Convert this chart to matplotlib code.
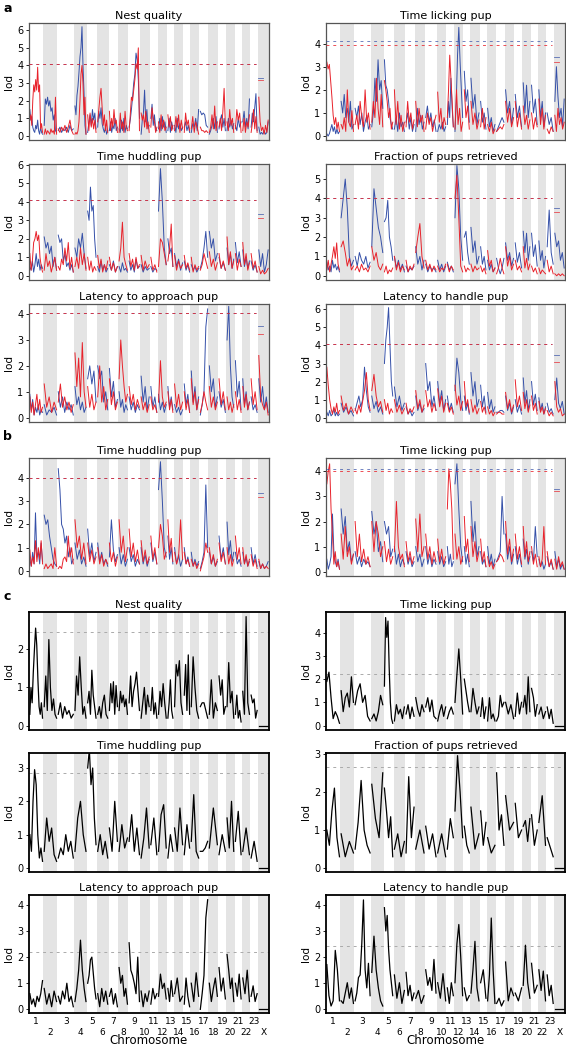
import numpy as np
import matplotlib.pyplot as plt

# chromosome layout (relative widths)
chroms = [str(i) for i in range(1, 24)] + ['X']
chrom_len = [43, 42, 50, 38, 30, 35, 29, 30, 36, 29, 23, 28, 20, 29, 21, 27, 27, 29, 24, 25, 22, 25, 23, 33]
gap = 5

RED = '#e8222b'
BLUE = '#3550a8'
BAND = '#e4e4e4'


def parse(s):
    return [np.array(c.split(), float) for c in s.split('|')]


# ---- panel a / b : red and blue LOD traces, one '|' block per chromosome ----
a_nest_red = ("0.9 1.2 0.6 2.0 2.9 2.5 3.2 2.6 3.9 2.5 2.9 0.4 0.7 0.2|0.1 0.4 0.1 0.3 0.2 0.1 0.4 0.2 0.3 0.1 2.2 0.1|"
              "0.4 0.2 0.5 0.3 0.6 0.2 0.5 0.9 0.3 0.1|0.1 0.2 0.1 0.3 0.8 2.0 3.5 4.0 3.0 1.2 2.2 0.1|1.2 0.3 1.3 0.5 1.0 0.4 0.9 0.2|"
              "0.8 1.5 2.2 2.7 1.6 0.6 1.2 0.3 0.9 0.2|1.4 0.3 1.0 0.5 1.5 0.7 0.9 0.2|0.2 1.3 0.4 0.8 0.2 1.4 0.5 0.3|"
              "0.3 1.2 2.2 2.0 2.6 3.2 4.1 3.8 5.0 0.3|1.3 0.9 1.2 0.5 1.4 0.4 0.8 0.2|0.5 1.6 1.0 0.8 0.2 0.5|0.8 0.2 1.2 0.4 0.9 0.3 0.5|"
              "1.2 0.5 1.1 0.3 0.6|0.3 1.1 0.5 1.2 0.2 0.9 0.4|0.2 1.3 0.6 0.9 0.3|0.4 1.1 0.2 0.8 0.5 0.1|0.5 0.3 0.3 0.2 0.3 0.2|"
              "0.2 0.5 1.2 0.4 1.7 0.3 0.8|0.5 1.0 0.3 1.4 2.7 0.6|0.8 0.3 1.5 0.6 1.0 0.2|0.4 1.5 0.9 1.3 0.2|0.3 1.0 0.2 0.8 0.5 1.2|"
              "0.2 0.7 1.5 0.4 1.1 0.2|2.2 0.8 0.3 0.5 0.1 0.6 0.2 0.9")
a_nest_blue = ("1.5 0.9 1.1 0.5 0.3 0.2 0.6 0.4 0.9 0.3 0.1 0.5 0.2 0.1|0.6 2.1 1.8 2.2 1.7 2.0 1.4 1.6 0.9 1.2 0.3 0.2|"
               "0.3 0.5 0.2 0.4 0.3 0.5 0.2 0.6 0.3 0.4|1.7 1.2 2.3 2.8 3.6 4.5 5.0 6.2 4.0 2.5 0.6 0.1|0.2 0.8 1.2 0.6 1.5 0.9 1.3 0.4|"
               "0.5 1.4 1.0 1.6 0.7 0.4 0.2 0.5 0.1 0.3|0.3 0.8 0.2 0.6 0.4 1.0 0.3 0.5|0.4 0.2 0.9 0.3 1.0 0.2 0.6 0.4|"
               "0.5 0.9 1.5 2.2 3.0 3.5 4.7 4.3 3.2 1.0|0.1 0.9 1.3 2.6 0.8 1.5 0.4 0.6|1.0 1.8 0.6 1.2 0.4 0.3|0.4 1.0 0.3 1.1 0.5 0.8 0.2|"
               "0.3 1.0 0.2 0.8 0.4|0.6 0.2 1.0 0.4 0.7 0.3 0.5|0.5 0.8 0.3 0.6 0.2|0.2 0.7 0.5 1.0 0.3 1.5|1.4 1.2 1.3 1.2 0.6 0.5|"
               "0.1 0.3 0.6 1.0 0.4 1.1 0.2|0.4 0.9 1.2 0.5 1.0 0.3|0.3 1.0 0.5 0.9 0.4 0.7|0.6 0.3 1.0 0.5 0.8|0.8 1.4 0.5 1.0 0.4 2.1|"
               "0.5 1.3 0.8 1.6 2.4 0.3|0.5 0.1 0.2 0.1 0.3 0.1 0.2 0.8")

a_lick_red = ("3.2 2.9 3.1 2.4 1.7 0.9 0.5 0.8 0.3 0.6 0.2|0.5 0.3 0.8 0.2 2.0 0.6 0.4 1.1 0.2|0.5 0.9 0.3 1.5 0.8 0.4 2.0 0.6 1.0 0.3|"
              "0.6 1.5 0.8 2.5 1.2 0.5 1.8 0.4|2.4 2.0 1.5 0.8 1.2 0.3 0.6|2.0 0.5 1.5 0.3 0.9 0.2 0.6|0.4 1.5 0.6 1.0 0.3 0.7|"
              "1.5 0.4 1.2 0.6 0.9 0.2|0.3 1.0 0.5 0.8 0.2 0.6 0.9|1.9 0.6 1.2 0.3 0.8 0.5|0.8 2.0 3.5 2.5 1.5 0.4|0.3 2.0 0.5 1.2 0.2 0.6|"
              "2.0 0.8 1.3 0.3|1.5 0.5 1.0 0.3 0.7|0.4 1.2 0.3 0.8|0.5 0.2 0.6 0.1 0.3|0.2 0.3 0.4 0.3 0.5|1.5 0.6 1.2 0.4 0.8|"
              "1.5 0.4 1.0 0.3|1.3 0.5 0.9 0.3 0.7|1.0 0.3 0.8 0.4|1.6 0.5 1.2 0.3 0.9|0.3 0.1 0.4 0.2|0.9 0.2 1.2 0.5 0.8 0.3 0.6")
a_lick_blue = ("0.1 0.0 0.1 0.3 0.5 0.2 0.4 0.1 0.3 0.1 0.2|1.5 1.0 1.8 0.8 1.2 0.6 1.5 0.3 0.5|1.2 0.8 1.3 0.5 1.0 0.2 0.6 0.9 0.3 0.5|"
               "0.4 1.0 2.5 1.5 3.3 2.0 2.4 1.2|3.3 2.2 2.0 1.5 0.8 0.5 0.3|0.3 0.8 0.2 1.0 0.4 0.6 0.2|0.6 1.0 0.3 0.8 0.2 0.5|"
               "0.2 1.2 0.5 0.9 0.3 0.6|0.8 1.3 0.6 1.0 0.4 0.7 0.2|0.2 0.5 0.3 0.6 0.2 0.4|0.5 1.5 0.8 2.5 1.2 0.4|"
               "0.2 1.5 3.5 4.7 3.2 2.0 0.8|2.8 1.5 2.0 0.6|2.5 1.2 1.8 0.5 1.0|1.5 0.6 1.0 0.3|1.2 0.4 0.8 0.2 0.5|0.2 0.4 0.6 0.8 0.6|"
               "2.0 1.0 1.5 0.5 1.2|1.8 0.8 1.3 0.4|2.3 1.0 2.2 0.8 1.5|2.2 1.0 1.6 0.5|2.0 0.8 1.5 0.4 1.0|1.0 0.5 0.8 0.2|"
               "1.5 3.0 1.7 0.8 1.2 0.4 1.6")

a_hud_red = ("1.2 0.3 0.8 1.8 2.0 2.4 1.9 2.2 1.0 0.5 0.2|0.3 1.2 0.5 0.8 0.2 0.6 1.0 0.3|0.5 0.3 0.9 0.6 1.5 0.8 1.8 0.4 1.0 0.2|"
             "0.5 1.0 0.4 1.5 0.6 1.2 0.3|1.0 0.3 0.8 0.2 0.5 0.3|1.1 0.4 0.9 0.2 0.6 0.3 0.8|1.0 0.3 0.7 0.2 0.5|0.8 1.5 2.9 1.0 0.6 0.3|"
             "1.2 0.5 0.9 0.3 1.0 0.4 0.6|1.1 0.3 0.8 0.4 0.6|1.0 0.3 0.6 0.2|0.5 2.0 1.8 1.2 0.6|0.8 1.5 2.8 0.5|1.1 0.3 0.8 0.4 0.6|"
             "1.1 0.4 0.7 0.3|1.0 0.2 0.6 0.3 0.5|0.3 0.6 1.2 0.8 0.4|1.3 0.5 0.9 0.3 0.7|1.2 0.4 0.8 0.3|2.1 0.6 1.3 0.4 0.8|"
             "1.2 0.3 0.9 0.5|1.8 0.6 1.2 0.3 0.7|1.2 0.4 0.8 0.2|0.5 0.1 0.3 0.1 0.2 0.4")
a_hud_blue = ("0.5 0.3 0.8 0.2 0.6 1.2 0.5 0.9 0.3 0.6 0.4|2.1 1.5 1.8 1.2 1.6 0.5 1.0 0.3|2.2 1.8 2.0 0.8 1.2 0.5 0.7 0.3 0.6 0.2|"
              "1.5 1.0 2.0 1.5 2.3 1.2 0.4|3.5 3.0 4.8 3.5 3.8 2.0 1.0|0.5 0.2 0.8 0.3 0.6 0.2 0.4|0.6 0.3 0.8 0.2 0.5|"
              "0.5 0.2 0.7 0.3 0.4 0.2|0.8 0.3 0.6 0.2 0.9 0.4 0.5|0.6 0.2 0.5 0.3 0.4|0.5 0.2 0.4 0.3|3.5 5.8 4.0 1.5 0.6|"
              "2.0 1.2 1.5 0.5|1.2 0.5 0.9 0.3 0.7|0.8 0.3 0.6 0.2|0.6 0.3 0.5 0.2 0.4|0.4 0.8 1.5 2.4 1.0|2.4 1.5 2.0 0.8 1.2|"
              "1.0 0.4 0.7 0.3|1.5 0.6 1.2 0.4 0.9|1.8 0.7 1.3 0.5|1.4 0.5 1.0 0.4 0.8|0.8 0.3 0.6 0.2|1.4 0.5 1.2 0.2 0.6 1.4")

a_frac_red = ("0.3 0.8 0.2 0.6 1.0 1.5 0.9 1.7 0.6 0.3|1.5 1.8 1.2 0.5 0.9 0.3 0.5|0.3 0.5 0.2 0.6 0.3 0.4 0.2 0.5|"
              "1.5 0.8 1.2 0.5 0.3 0.6|0.2 0.5 0.1 0.3 0.2 0.4|1.0 0.3 0.7 0.2 0.5 0.3|0.8 0.2 0.5 0.3 0.6|1.2 2.0 2.7 1.0 0.4|"
              "0.8 0.3 0.6 0.2 0.5 0.3|0.5 0.2 0.4 0.3 0.6|0.6 0.2 0.5 0.3|4.0 5.2 3.0 0.5 0.2|0.5 0.2 0.4 0.3|0.6 0.2 0.5 0.3 0.4|"
              "0.5 0.2 0.4 0.1|1.3 0.5 0.8 0.2 0.4|0.1 0.4 0.9 0.4 0.1|1.5 0.5 1.0 0.3 0.6|0.8 0.3 0.5 0.2|1.5 0.4 0.9 0.3 0.6|"
              "0.5 0.2 0.4 0.1|0.4 0.1 0.3 0.2 0.1|0.8 0.2 0.5 0.1|0.1 0.0 0.1 0.0 0.1 0.0")
a_frac_blue = ("0.7 0.3 0.5 0.2 0.8 0.4 0.6 0.3 0.5 0.2|3.0 4.0 5.0 3.5 1.0 0.5 0.8|1.0 0.5 1.2 0.8 0.6 1.0 0.4 0.7|"
               "1.5 4.5 3.5 2.5 2.0 1.2|2.8 3.0 3.9 2.0 1.5 0.8|1.0 0.4 0.8 0.3 0.6 0.2|0.5 0.2 0.4 0.3 0.5|1.5 0.6 1.0 0.3 0.8|"
               "0.6 0.2 0.5 0.3 0.4 0.2|0.8 0.3 0.6 0.2 0.5|0.7 0.3 0.5 0.2|3.0 5.7 4.5 2.0 0.8|2.0 2.3 1.2 0.6|2.5 1.2 1.8 0.6 1.0|"
               "1.5 0.6 1.0 0.3|0.8 0.3 0.6 0.2 0.4|0.9 0.4 0.1 0.4 0.9|1.7 0.8 1.2 0.5 0.9|1.7 0.7 1.2 0.4|2.3 1.2 2.2 0.8 1.5|"
               "2.2 1.0 1.6 0.5|1.8 0.8 1.3 0.4 1.0|1.5 3.4 1.2 0.6|2.2 1.5 1.8 0.8 1.2 0.4")

a_appr_red = ("0.8 0.2 0.6 0.1 0.5 0.9 0.3 0.7 0.2 0.4|1.3 0.4 0.8 0.2 0.6 0.3|0.6 1.3 0.4 0.8 0.3 0.6 0.2 0.5|"
              "2.5 1.2 2.3 0.8 2.9 1.0 0.4|1.2 0.4 0.9 0.3 0.6|0.8 2.0 0.6 1.2 0.3 0.7|1.5 0.5 1.0 0.3 0.6|1.5 3.0 2.0 1.2 0.6 0.9|"
              "1.2 0.5 0.9 0.3 0.7 0.4|0.8 0.3 0.6 0.2 0.5|0.8 0.3 0.5 0.2|0.6 2.2 0.8 0.4 0.6|1.0 0.3 0.7 0.2|1.3 0.4 0.9 0.3 0.6|"
              "1.0 0.3 0.7 0.2|1.5 0.5 1.0 0.3 0.7|0.2 0.5 1.0 0.6 0.3|1.2 0.4 0.8 0.3 0.6|1.5 0.5 1.0 0.3|0.8 0.3 0.6 0.2 0.5|"
              "1.0 0.3 0.7 0.2|1.2 0.4 0.9 0.3 0.6|1.5 0.5 1.0 0.3|2.4 0.8 0.5 0.3 0.6 0.1")
a_appr_blue = ("0.9 0.3 0.7 0.1 0.4 0.2 0.5 0.1 0.3 0.2|0.5 0.1 0.3 0.2 0.4 0.1|1.0 0.4 0.8 0.2 0.6 0.3 0.5 0.1|"
               "1.2 0.5 0.8 0.3 0.6 0.2 0.4|1.5 2.0 1.3 1.8 0.6|2.0 1.5 1.8 0.6 1.0 0.3|1.9 0.8 1.4 0.4 0.7|1.0 0.4 0.7 0.2 0.5 0.3|"
               "0.8 0.3 0.6 0.2 0.5 0.3|1.6 0.6 1.2 0.3 0.8|1.2 0.4 0.8 0.2|0.9 0.3 0.6 0.2 0.5|1.2 0.4 0.8 0.3|0.5 0.2 0.4 0.1 0.3|"
               "1.3 0.5 0.9 0.2|1.8 0.6 1.2 0.3 0.8|0.1 0.5 1.0 3.5 4.2|2.0 1.0 1.5 0.4 0.8|1.0 0.4 0.7 0.2|3.0 4.3 2.0 0.8 0.4|"
               "2.2 0.8 1.4 0.3|1.5 0.5 1.0 0.3 0.6|0.8 0.3 0.5 0.2|1.5 0.6 1.2 0.3 0.8 0.2")

a_hand_red = ("2.8 1.8 1.0 0.5 0.2 0.6 0.3 0.8 0.2 0.4|1.2 0.4 0.8 0.2 0.6 0.3|0.5 0.2 0.7 0.3 0.9 1.5 2.5 1.0 0.4|"
              "1.5 2.4 1.2 0.6 0.9 0.3|1.0 0.4 0.8 0.2 0.5 0.3|1.0 0.3 0.7 0.2 0.5|0.8 0.2 0.5 0.3 0.6|1.5 0.5 1.0 0.3 0.7|"
              "1.5 0.6 1.0 0.3 0.8 0.4|1.6 0.6 1.2 0.3 0.8|0.8 0.3 0.6 0.2|1.8 0.7 1.2 0.4 0.9|2.0 0.6 1.0 0.3|1.0 0.3 0.7 0.2 0.5|"
              "0.9 0.3 0.6 0.2|0.6 0.2 0.4 0.1 0.3|0.2 0.3 0.3 0.2 0.2|1.4 0.5 1.0 0.3 0.7|2.1 0.6 1.2 0.4|1.4 0.5 1.0 0.3 0.7|"
              "1.2 0.4 0.8 0.2|0.9 0.3 0.6 0.2 0.5|0.4 0.1 0.3 0.1|2.0 0.6 0.3 0.5 0.1 0.2")
a_hand_blue = ("0.3 0.1 0.4 0.1 0.2 0.5 0.1 0.3 0.1 0.2|0.8 0.3 0.6 0.2 0.4 0.1|0.4 0.8 1.2 0.6 1.0 2.8 1.5 0.6 0.3|"
               "1.2 0.5 0.9 0.3 0.6 0.2|3.0 4.3 5.0 6.1 4.0 2.0 1.2|1.7 0.6 1.2 0.4 0.8|0.6 0.2 0.4 0.1 0.3|1.2 0.4 0.8 0.3 0.5|"
               "3.0 1.5 2.0 0.6 1.2 0.4|2.0 0.8 1.5 0.4 1.0|1.2 0.4 0.8 0.3|1.5 3.3 2.5 1.0 0.4|1.2 0.4 0.8 0.2|2.5 1.2 2.0 0.6 1.0|"
               "1.8 0.6 1.2 0.3|1.4 0.5 1.0 0.3 0.6|0.3 0.3 0.4 0.4 0.3|1.2 0.4 0.8 0.2 0.6|1.0 0.3 0.7 0.2|2.2 0.8 1.5 0.4 1.0|"
               "2.0 0.7 1.3 0.4|1.1 0.4 0.8 0.2 0.6|0.8 0.3 0.5 0.2|1.0 2.2 0.8 0.5 0.9 0.2")

b_hud_red = ("0.9 0.2 0.6 0.3 1.3 0.4 1.0 0.5 1.3 0.3|0.1 0.3 0.1 0.2 0.3 0.1 1.0 0.2|0.1 0.2 0.1 0.5 0.6 0.4 1.5 0.6 1.0 0.3|"
             "2.2 1.0 1.5 0.5 1.2 0.3|1.2 0.4 0.9 0.3 0.6|1.0 0.3 0.7 0.2 0.5 0.3|1.2 0.4 0.8 0.2 0.6|2.2 0.8 1.5 0.4 1.0|"
             "1.8 0.6 1.2 0.4 0.9 0.3|1.3 0.4 0.9 0.3 0.6|1.5 0.5 1.0 0.3|1.0 2.0 1.5 0.5 0.8|2.2 0.8 1.4 0.4|0.8 0.3 0.6 2.2 0.5|"
             "0.8 0.3 0.5 0.2|0.5 0.2 0.4 0.1 0.3|0.0 0.3 0.6 1.2 0.8|1.0 0.3 0.7 0.2 0.5|1.2 0.4 0.8 0.3|1.0 0.3 0.7 0.2 0.5|"
             "1.5 0.5 1.0 0.3|1.0 0.3 0.7 0.2 0.5|0.7 0.2 0.5 0.1|0.5 0.1 0.3 0.1 0.2 0.1")
b_hud_blue = ("0.5 0.2 0.8 0.3 2.5 0.6 0.8 0.3 1.2 0.4|2.4 2.0 2.2 1.5 1.0 0.5 0.3 0.2|4.4 3.5 2.0 1.8 1.2 1.5 0.6 1.0 0.3 0.5|"
              "1.2 0.5 0.9 0.3 0.6 0.2|1.8 0.6 1.2 0.4 0.8|1.2 0.4 0.8 0.3 0.5 0.2|0.6 2.2 0.9 0.4 0.7|1.0 0.3 0.7 0.2 0.5|"
              "1.0 0.4 0.7 0.2 0.5 0.3|1.0 0.3 0.7 0.2 0.5|1.2 0.4 0.8 0.3|3.5 4.7 3.0 1.0 0.6|1.5 0.5 1.0 0.3|1.0 0.3 0.7 0.2 0.5|"
              "1.0 0.3 0.6 0.2|0.8 0.2 0.5 0.2 0.4|0.1 0.4 0.8 3.7 1.0|0.8 0.3 0.6 0.2 0.4|1.5 0.5 1.0 0.3|2.1 0.7 1.3 0.4 0.8|"
              "0.8 0.3 0.5 0.2|0.8 0.3 0.6 0.2 0.4|1.0 0.3 0.7 0.2|0.4 0.1 0.3 0.1 0.2 0.4")

b_lick_red = ("3.5 4.0 4.3 2.5 1.5 0.3 0.8 0.2 0.4 0.1|1.5 0.5 1.8 0.6 1.0 0.3 0.7|2.0 0.6 1.5 0.4 0.9 0.3 0.6 0.2|"
              "2.0 0.8 2.0 1.5 0.6 1.0|1.2 0.4 0.9 0.3 0.6|0.8 2.8 1.0 0.5 0.7 0.2|1.2 0.4 0.8 0.3 0.6|2.1 0.8 2.3 0.6 1.0|"
              "1.5 0.5 1.0 0.3 0.8 0.4|1.3 0.4 0.9 0.3 0.6|2.5 4.1 3.5 2.5 0.5|1.5 0.5 1.0 0.3 0.6|2.2 0.8 1.3 0.4|1.8 0.6 1.2 0.4 0.8|"
              "1.3 0.4 0.8 0.2|0.6 0.2 0.4 0.1 0.3|0.4 0.5 0.7 0.6 0.4|2.0 0.7 1.3 0.4 0.9|1.5 0.5 1.0 0.3|1.8 0.6 1.2 0.4 0.8|"
              "1.0 0.3 0.7 0.2|0.6 0.2 0.5 1.8 0.3|0.8 0.2 0.5 0.1|0.5 0.1 0.6 0.2 0.4 0.1")
b_lick_blue = ("0.5 0.1 0.3 0.6 2.3 0.8 0.4 0.2 0.5 0.1|2.5 1.5 2.2 0.8 1.2 0.4 0.7|0.8 0.3 0.6 0.2 0.5 0.3 0.4 0.2|"
               "2.4 1.5 2.0 0.8 1.2 0.4|2.0 1.5 1.8 0.6 0.9|1.0 0.3 0.7 0.2 0.5 0.3|0.8 0.3 0.6 0.2 0.4|1.0 0.4 0.7 0.2 0.5|"
               "1.0 0.3 0.7 0.2 0.5 0.3|0.8 0.3 0.6 0.2 0.4|1.0 0.3 0.7 0.2 0.4|3.5 4.3 2.5 1.0 0.4|1.0 0.3 0.7 0.2|2.8 1.2 2.0 0.6 1.0|"
               "0.8 0.3 0.5 0.2|1.0 0.3 0.7 0.2 0.5|0.4 0.6 0.8 3.0 1.5|1.5 0.5 1.0 0.3 0.7|1.0 0.3 0.7 0.2|1.3 0.5 0.9 0.3 0.6|"
               "0.8 0.4 1.8 0.6|0.5 0.2 0.4 0.1 0.3|0.6 0.2 0.4 0.1|0.8 0.2 0.5 0.1 0.3 0.1")

# ---- panel c : single black trace ----
c_nest = ("0.3 1.0 0.6 1.4 2.0 2.55 2.1 1.2 0.5 0.3 0.6 0.2|0.5 1.3 0.4 2.25 1.0 0.4 0.7 0.3 0.2|0.3 0.6 0.2 0.5 0.3 0.4 0.2 0.3|"
          "0.4 1.3 0.8 1.8 1.0 0.3 0.5 0.2|0.6 0.9 0.3 1.45 0.8 0.5 0.2|0.3 0.5 0.2 0.6 0.8 0.3 0.2|0.4 1.1 0.6 1.15 0.3 1.05 0.5|"
          "0.4 0.9 0.6 0.8 0.5 0.7 0.3|0.6 1.3 0.5 0.9 1.1 1.4 0.9 0.4|0.2 0.6 1.0 0.3 0.8 0.5|0.4 1.0 0.3 0.6 0.2|"
          "0.3 0.9 0.5 1.1 0.6 0.2|0.2 0.6 1.2 0.4 0.2|0.5 1.6 1.3 1.7 0.6 0.3|0.8 1.6 0.4 1.85 0.3|0.5 1.8 1.0 0.4 0.2|"
          "0.5 0.6 0.6 0.4 0.2|0.3 1.2 0.2 0.6 0.4|1.3 0.8 1.2 0.3 0.5|0.5 1.65 0.6 0.9 0.2|0.3 0.8 0.2 0.4 0.1|"
          "0.9 0.3 2.85 0.6 0.3|0.8 0.6 0.7 0.2 0.4|0.0 0.0")
c_lick = ("1.9 2.3 1.2 0.3 0.6 0.4 0.1|1.5 0.6 1.2 1.4 0.8 2.1 1.0|0.9 1.5 1.8 1.0 1.3 0.4 0.2|0.3 0.5 0.2 0.6 1.3 0.9|"
          "1.7 4.65 3.8 4.5 2.5 1.0 0.3 0.1|0.2 0.9 0.5 0.7 0.3 0.8|0.5 0.9 0.3 0.8 0.4|1.2 0.7 0.4 0.9 0.6|0.8 1.2 0.6 1.1 0.4 0.3|"
          "0.2 0.6 0.9 0.4 0.8|0.3 0.6 0.8 0.5|1.0 2.2 3.3 2.0 0.5|2.0 1.5 1.0 0.6|0.6 1.6 1.0 0.5 0.8|0.4 1.2 0.3 0.8|"
          "0.2 1.2 0.3 0.5 0.2|0.2 0.4 1.3 0.8 1.0|1.0 0.5 0.9 0.3|0.4 1.4 0.5 1.0|0.8 1.3 0.5 2.1 0.6|1.6 1.2 0.4 0.9|"
          "0.5 0.8 0.3 0.6|0.8 0.3 0.7 0.1|0.0 0.0")
c_hud = ("1.0 0.5 2.0 2.95 2.5 1.0 0.3 0.6 0.2|0.5 1.5 0.8 1.2 0.4 0.2|0.3 0.6 0.4 1.0 0.5 0.8 0.3|0.5 1.5 2.0 1.0 0.5|"
         "3.0 3.55 2.5 3.0 1.5 0.7|0.5 1.0 0.4 0.8 0.3|1.2 0.5 2.0 0.8|0.5 1.3 0.6 0.9|0.8 1.6 0.5 1.2 0.4|0.3 0.9 1.8 0.6|"
         "0.7 1.5 0.4|0.5 1.6 1.9 0.6|0.3 1.0 0.5|1.2 0.5 1.8 0.7|0.4 1.3 0.6|0.8 2.2 0.5 0.3|0.5 0.5 0.6 0.8|0.6 1.8 0.7|"
         "0.4 1.0 0.5|1.5 0.6 2.0 0.5|0.8 1.7 0.4|0.5 1.2 0.4|0.3 0.8 0.2|0.0 0.0")
c_frac = ("1.0 0.6 1.5 2.1 0.8 0.3|0.9 0.3 0.7 0.4|0.5 1.2 2.3 1.0 0.6 0.4|2.2 1.3 0.8 2.5|2.1 1.5 0.8 1.35 0.3|0.5 0.9 0.3 0.7|"
          "0.4 2.4 0.8 1.6|0.5 1.0 0.4|1.1 0.5 0.9 0.3|0.4 0.9 0.3|0.5 1.3 0.8|1.5 2.95 2.0 0.8|1.1 0.6 0.4|1.6 0.5 0.9|"
          "1.5 0.6 1.2|0.8 0.4 0.6|2.5 1.0 1.4 0.6|1.9 1.0 1.2|1.7 0.8 1.0|1.1 1.25 0.7 1.3|1.4 0.6 1.0|1.2 1.9 0.6|0.8 0.3|0.0 0.0")
c_appr = ("0.6 0.2 0.4 0.1 0.5 0.3 0.6 1.1|0.8 0.2 0.6 0.1 0.7 0.3|0.5 0.2 0.7 0.4 1.0 0.3 0.5 0.1|0.3 0.8 1.5 2.65 1.5 0.8 0.3|"
          "1.0 1.3 1.9 2.0 1.4 0.8 0.4|0.6 0.1 0.8 0.3 0.7 0.2|0.5 0.8 0.2 0.6 0.1|1.6 1.0 1.3 0.5 0.8 0.2|"
          "2.55 1.5 1.3 1.0 0.6 2.0 0.3|0.7 0.1 0.6 0.3 0.7|0.2 0.8 0.4 0.6|0.5 1.35 0.8 1.0 0.4|0.8 0.3 1.1 0.5|0.6 1.2 0.3 0.5|"
          "0.2 1.2 0.5 0.1|1.0 0.3 1.4 0.5|0.0 0.6 1.3 3.5 4.2|1.0 0.3 0.8 1.2 0.5|1.6 0.7 1.2 0.4|2.1 1.5 0.8 1.2 0.3|"
          "1.0 0.5 1.35 0.4|1.2 0.6 1.5 0.3|0.5 0.9 0.3 0.6|0.0 0.0")
c_hand = ("1.7 0.5 0.1 0.3 2.25 1.5 0.3|0.3 0.2 0.6 1.0 0.4 0.8 0.2|0.3 0.6 1.2 1.3 2.5 4.2 1.5 0.8 1.75 0.5|"
          "1.4 2.8 1.5 0.8 0.3 0.1|3.9 3.0 3.6 2.3 1.5 1.0 0.5|1.3 0.4 1.0 0.2 0.7|1.4 0.5 0.9 0.3 0.6|0.4 0.7 0.2 0.5|"
          "1.5 0.9 1.2 0.7 1.9 0.6|1.0 0.4 1.35 0.3|0.8 0.2 1.0 0.5|1.0 2.5 3.25 2.0 0.5|0.8 0.3 0.5|0.6 1.5 2.6 0.8 0.3|"
          "1.0 1.5 0.4|0.3 1.3 3.5 1.5 0.2|0.2 0.4 0.1 0.3|1.8 0.3 0.8 0.5|0.6 0.3 0.8|0.9 2.45 1.0 0.4|1.75 0.6 0.9|"
          "1.5 0.7 1.45 0.3|1.3 0.5 0.9 0.2|0.0 0.0")

# title, ylim, yticks, (red thr, blue thr), (X red thr, X blue thr)
a_panels = [
    ("Nest quality", a_nest_red, a_nest_blue, (-0.23, 6.41), range(7), (4.07, 4.07), (3.15, 3.3)),
    ("Time licking pup", a_lick_red, a_lick_blue, (-0.17, 4.89), range(5), (3.95, 4.1), (3.2, 3.4)),
    ("Time huddling pup", a_hud_red, a_hud_blue, (-0.23, 6.05), range(7), (4.1, 4.1), (3.15, 3.35)),
    ("Fraction of pups retrieved", a_frac_red, a_frac_blue, (-0.22, 5.78), range(6), (4.0, 4.0), (3.3, 3.5)),
    ("Latency to approach pup", a_appr_red, a_appr_blue, (-0.17, 4.39), range(5), (4.05, 4.05), (3.25, 3.55)),
    ("Latency to handle pup", a_hand_red, a_hand_blue, (-0.24, 6.3), range(7), (4.08, 4.08), (3.1, 3.5)),
]
b_panels = [
    ("Time huddling pup", b_hud_red, b_hud_blue, (-0.22, 4.86), range(5), (4.0, 4.0), (3.2, 3.35)),
    ("Time licking pup", b_lick_red, b_lick_blue, (-0.17, 4.53), range(5), (4.0, 4.1), (3.2, 3.3)),
]
c_panels = [
    ("Nest quality", c_nest, (-0.11, 2.97), range(3), 2.45),
    ("Time licking pup", c_lick, (-0.19, 4.89), range(5), 2.2),
    ("Time huddling pup", c_hud, (-0.12, 3.45), range(4), 2.85),
    ("Fraction of pups retrieved", c_frac, (-0.1, 3.02), range(4), 2.65),
    ("Latency to approach pup", c_appr, (-0.14, 4.38), range(5), 2.2),
    ("Latency to handle pup", c_hand, (-0.17, 4.39), range(5), 2.4),
]

starts = np.concatenate([[0], np.cumsum(chrom_len)[:-1]])
total = sum(chrom_len)
centers = starts + np.array(chrom_len) / 2


def positions(i, n):
    return np.linspace(starts[i] + gap / 2, starts[i] + chrom_len[i] - gap / 2, n)


W, H = 566, 1050
fig = plt.figure(figsize=(W / 100, H / 100), dpi=100)
cols = [(29, 269), (326, 565)]
a_rows = [(23, 140), (164, 280), (304, 422)]
b_row = (458, 576)
c_rows = [(612, 730), (753, 872), (895, 1013)]


def make_ax(col, row):
    x0, x1 = cols[col]
    y0, y1 = row
    return fig.add_axes([x0 / W, 1 - y1 / H, (x1 - x0) / W, (y1 - y0) / H])


def base(ax, title, ylim, yticks, frame_col, frame_lw):
    for i in range(1, 24, 2):
        ax.axvspan(starts[i], starts[i] + chrom_len[i], color=BAND, lw=0, zorder=0)
    ax.set_xlim(0, total)
    ax.set_ylim(*ylim)
    ax.set_yticks(list(yticks))
    ax.set_xticks([])
    ax.tick_params(axis='y', labelsize=7, length=2.5, width=0.6, pad=1.5)
    ax.set_ylabel('lod', fontsize=7.5, labelpad=2)
    ax.set_title(title, fontsize=8, pad=3)
    for sp in ax.spines.values():
        sp.set_color(frame_col)
        sp.set_linewidth(frame_lw)


def rb_panel(ax, title, red, blue, ylim, yticks, thr, xthr):
    base(ax, title, ylim, yticks, '#555555', 0.9)
    for s, col in ((blue, BLUE), (red, RED)):
        for i, v in enumerate(parse(s)):
            ax.plot(positions(i, len(v)), v, color=col, lw=0.7, zorder=2)
    xe = starts[-1] - gap
    ax.plot([0, xe], [thr[1]] * 2, color=BLUE, lw=0.7, dashes=(3, 4), alpha=0.7, zorder=3)
    ax.plot([0, xe], [thr[0]] * 2, color=RED, lw=0.7, dashes=(3, 4), alpha=0.8, zorder=3)
    xs = starts[-1] + 1
    ax.plot([xs, xs + 14], [xthr[1]] * 2, color=BLUE, lw=0.6, alpha=0.8)
    ax.plot([xs, xs + 14], [xthr[0]] * 2, color=RED, lw=0.6, alpha=0.8)


for k, p in enumerate(a_panels):
    rb_panel(make_ax(k % 2, a_rows[k // 2]), *p)
for k, p in enumerate(b_panels):
    rb_panel(make_ax(k, b_row), *p)

for k, (title, s, ylim, yticks, thr) in enumerate(c_panels):
    ax = make_ax(k % 2, c_rows[k // 2])
    base(ax, title, ylim, yticks, 'black', 1.3)
    for i, v in enumerate(parse(s)):
        ax.plot(positions(i, len(v)), v, color='black', lw=0.9, zorder=2)
    ax.plot([0, total], [thr] * 2, color='#aaaaaa', lw=0.7, dashes=(3, 4), zorder=1)
    if k >= 4:
        # odd chromosomes on the upper row, even ones on the lower row
        ax.set_xticks(centers[0::2])
        ax.set_xticklabels(chroms[0::2], fontsize=6.5)
        ax.set_xticks(centers[1::2], minor=True)
        ax.set_xticklabels(chroms[1::2], minor=True, fontsize=6.5)
        ax.tick_params(axis='x', which='major', length=0, pad=3)
        ax.tick_params(axis='x', which='minor', length=0, pad=10.5)
        ax.set_xlabel('Chromosome', fontsize=8.5, labelpad=-1.5)

for lab, y in (('a', 8), ('b', 437), ('c', 596)):
    fig.text(3 / W, 1 - y / H, lab, fontsize=9, fontweight='bold', va='center', ha='left')

fig.savefig('out.png', dpi=100)
